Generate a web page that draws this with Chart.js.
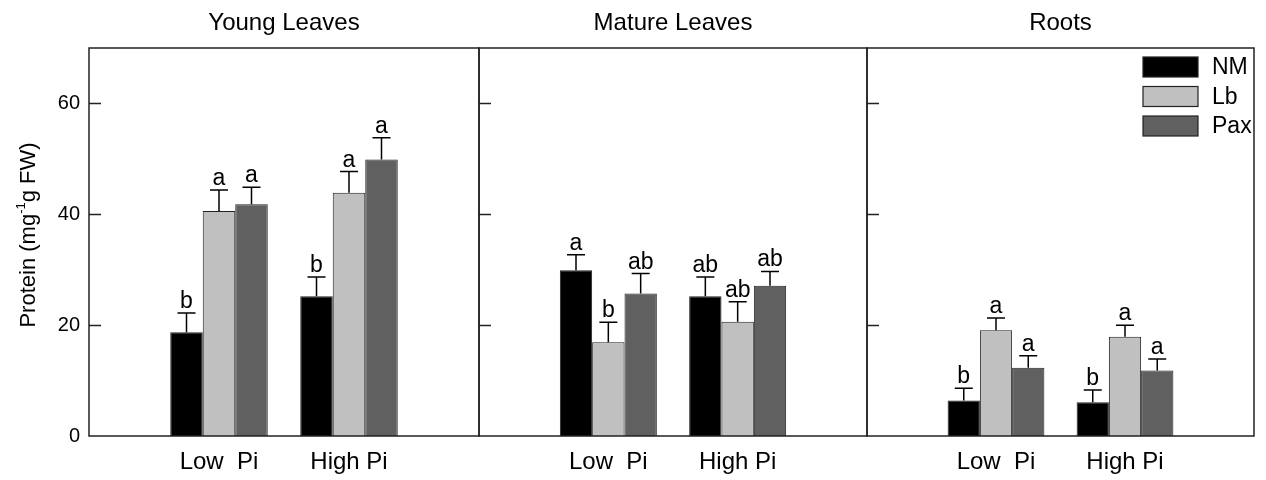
<!DOCTYPE html>
<html>
<head>
<meta charset="utf-8">
<script src="https://cdn.jsdelivr.net/npm/chart.js@4/dist/chart.umd.min.js"></script>
<style>
  body { margin: 0; background: #fff; }
  #wrap { position: relative; width: 1266px; height: 480px; overflow: hidden; }
  canvas { position: absolute; top: 0; }
</style>
</head>
<body>
<div id="wrap">
  <canvas id="c1" width="491" height="480" style="left:0px"></canvas>
  <canvas id="c2" width="412" height="480" style="left:467px"></canvas>
  <canvas id="c3" width="411" height="480" style="left:855px"></canvas>
</div>
<script>
const FONT = '"Liberation Sans", Arial, Helvetica, sans-serif'
Chart.defaults.color = '#000'
Chart.defaults.font.family = FONT

const groups = ['', 'Low  Pi', 'High Pi', '']
const seriesNames = ['NM', 'Lb', 'Pax']
const seriesColors = ['#000000', '#c0c0c0', '#606060']
const panelTitles = ['Young Leaves', 'Mature Leaves', 'Roots']

// values per panel: [Low Pi, High Pi]
const youngNM = [18.7, 25.2]
const youngLb = [40.6, 43.9]
const youngPax = [41.8, 49.9]
const youngNMErr = [3.5, 3.5]
const youngLbErr = [3.8, 3.8]
const youngPaxErr = [3.1, 3.9]
const youngNMSig = ['b', 'b']
const youngLbSig = ['a', 'a']
const youngPaxSig = ['a', 'a']

const matureNM = [29.9, 25.2]
const matureLb = [16.9, 20.6]
const maturePax = [25.7, 27.1]
const matureNMErr = [2.8, 3.5]
const matureLbErr = [3.6, 3.6]
const maturePaxErr = [3.6, 2.6]
const matureNMSig = ['a', 'ab']
const matureLbSig = ['b', 'ab']
const maturePaxSig = ['ab', 'ab']

const rootsNM = [6.4, 6.1]
const rootsLb = [19.1, 17.9]
const rootsPax = [12.3, 11.8]
const rootsNMErr = [2.2, 2.2]
const rootsLbErr = [2.2, 2.1]
const rootsPaxErr = [2.2, 2.1]
const rootsNMSig = ['b', 'b']
const rootsLbSig = ['a', 'a']
const rootsPaxSig = ['a', 'a']

const yTicks = [0, 20, 40, 60]
const yMax = 70

const pad = arr => [null, arr[0], arr[1], null]

const panels = [
    { id: 'c1', title: panelTitles[0], vals: [youngNM, youngLb, youngPax], errs: [youngNMErr, youngLbErr, youngPaxErr], sig: [youngNMSig, youngLbSig, youngPaxSig], yAxis: true },
    { id: 'c2', title: panelTitles[1], vals: [matureNM, matureLb, maturePax], errs: [matureNMErr, matureLbErr, maturePaxErr], sig: [matureNMSig, matureLbSig, maturePaxSig] },
    { id: 'c3', title: panelTitles[2], vals: [rootsNM, rootsLb, rootsPax], errs: [rootsNMErr, rootsLbErr, rootsPaxErr], sig: [rootsNMSig, rootsLbSig, rootsPaxSig], legend: true }
]

const framePlugin = {
    id: 'frame',
    afterDatasetsDraw(chart, args, opts) {
        const ctx = chart.ctx
        const a = chart.chartArea
        const y = chart.scales.y
        ctx.save()
        // error bars + letters
        chart.data.datasets.forEach((ds, i) => {
            const meta = chart.getDatasetMeta(i)
            meta.data.forEach((el, j) => {
                const v = ds.data[j]
                if (v == null) return
                const top = y.getPixelForValue(v + ds.err[j])
                ctx.strokeStyle = '#000'
                ctx.lineWidth = 1.5
                ctx.beginPath()
                ctx.moveTo(el.x, el.y)
                ctx.lineTo(el.x, top)
                ctx.moveTo(el.x - 9, top)
                ctx.lineTo(el.x + 9, top)
                ctx.stroke()
                ctx.fillStyle = '#000'
                ctx.font = '23px ' + FONT
                ctx.textAlign = 'center'
                ctx.textBaseline = 'alphabetic'
                ctx.fillText(ds.sig[j], el.x, top - 5)
            })
        })
        // frame
        ctx.strokeStyle = '#222'
        ctx.lineWidth = 1.5
        ctx.strokeRect(a.left, a.top, a.right - a.left, a.bottom - a.top)
        // inward ticks on the left edge
        ctx.beginPath()
        y.ticks.forEach(t => {
            if (t.value === 0) return
            const py = Math.round(y.getPixelForValue(t.value)) + 0.5
            ctx.moveTo(a.left, py)
            ctx.lineTo(a.left + 12, py)
        })
        ctx.stroke()
        // panel title
        ctx.fillStyle = '#000'
        ctx.font = '24px ' + FONT
        ctx.textAlign = 'center'
        ctx.textBaseline = 'alphabetic'
        ctx.fillText(opts.title, (a.left + a.right) / 2, 30)
        // y axis title
        if (opts.yAxis) {
            ctx.save()
            ctx.translate(35, (a.top + a.bottom) / 2 - 7)
            ctx.rotate(-Math.PI / 2)
            const p1 = 'Protein (mg', sup = '-1', p2 = 'g FW)'
            ctx.font = '22px ' + FONT
            const w1 = ctx.measureText(p1).width
            const w3 = ctx.measureText(p2).width
            ctx.font = '13px ' + FONT
            const w2 = ctx.measureText(sup).width
            let x = -(w1 + w2 + w3) / 2
            ctx.textAlign = 'left'
            ctx.font = '22px ' + FONT
            ctx.fillText(p1, x, 0)
            x += w1
            ctx.font = '13px ' + FONT
            ctx.fillText(sup, x, -10)
            x += w2
            ctx.font = '22px ' + FONT
            ctx.fillText(p2, x, 0)
            ctx.restore()
        }
        // legend
        if (opts.legend) {
            ctx.font = '23px ' + FONT
            ctx.textAlign = 'left'
            ctx.textBaseline = 'middle'
            seriesNames.forEach((n, i) => {
                const by = 57 + i * 29.5
                ctx.fillStyle = seriesColors[i]
                ctx.fillRect(a.right - 111, by, 55, 20)
                ctx.strokeStyle = '#222'
                ctx.lineWidth = 1.2
                ctx.strokeRect(a.right - 111, by, 55, 20)
                ctx.fillStyle = '#000'
                ctx.fillText(n, a.right - 42, by + 11)
            })
        }
        ctx.restore()
    }
}

panels.forEach(p => {
    new Chart(document.getElementById(p.id), {
        type: 'bar',
        data: {
            labels: groups,
            datasets: seriesNames.map((n, i) => ({
                label: n,
                data: pad(p.vals[i]),
                err: pad(p.errs[i]),
                sig: pad(p.sig[i]),
                backgroundColor: seriesColors[i],
                borderColor: '#222',
                borderWidth: 1
            }))
        },
        options: {
            responsive: false,
            animation: false,
            categoryPercentage: 0.75,
            barPercentage: 1,
            layout: { padding: { top: 48, left: 0, right: 0, bottom: 0 } },
            plugins: {
                legend: { display: false },
                tooltip: { enabled: false },
                frame: { title: p.title, yAxis: !!p.yAxis, legend: !!p.legend }
            },
            scales: {
                x: {
                    offset: false,
                    grid: { display: false, drawTicks: false },
                    border: { display: false },
                    ticks: { autoSkip: false, maxRotation: 0, padding: 12, font: { size: 24 } },
                    afterFit: s => { s.height = 44 }
                },
                y: {
                    display: !!p.yAxis,
                    min: 0,
                    max: yMax,
                    afterBuildTicks: s => { s.ticks = yTicks.map(v => ({ value: v })) },
                    grid: { display: false, drawTicks: false },
                    border: { display: false },
                    ticks: { padding: 9, font: { size: 20 } },
                    afterFit: s => { s.width = p.yAxis ? 89 : 0 }
                }
            }
        },
        plugins: [framePlugin]
    })
})
</script>
</body>
</html>
